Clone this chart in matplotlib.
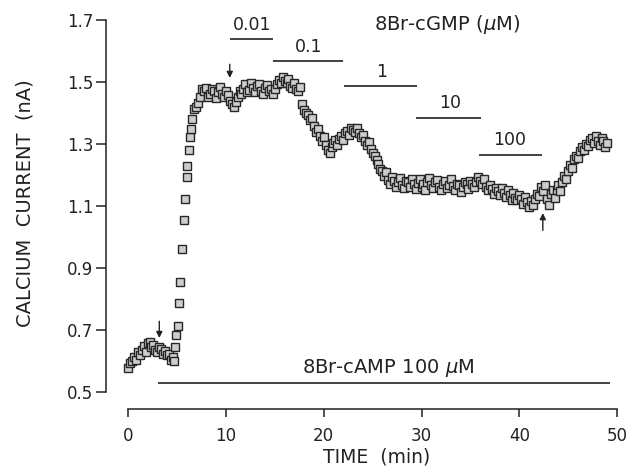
import matplotlib.pyplot as plt

plt.rcParams['font.family'] = ['DejaVu Sans']
plt.rcParams['mathtext.fontset'] = 'dejavusans'

# calcium current recording
time_min = [
    0.0, 0.2, 0.4, 0.6, 0.8, 1.0, 1.2, 1.4, 1.6, 1.8,
    2.0, 2.2, 2.4, 2.6, 2.8, 3.0, 3.2, 3.4, 3.6, 3.8,
    4.0, 4.2, 4.4, 4.6, 4.7,
    4.8, 4.95, 5.1, 5.25, 5.35, 5.5, 5.7, 5.85, 6.0, 6.05,
    6.2, 6.35, 6.45, 6.55, 6.75, 6.95, 7.15, 7.35, 7.55,
    7.8, 8.0, 8.2, 8.4, 8.6, 8.8, 9.0, 9.2, 9.4, 9.6,
    9.8, 10.0, 10.2, 10.4, 10.6, 10.8, 11.0, 11.2, 11.4, 11.6,
    11.8, 12.0, 12.2, 12.4, 12.6, 12.8, 13.0, 13.2, 13.4, 13.6,
    13.8, 14.0, 14.2, 14.4, 14.6, 14.8, 15.0, 15.2, 15.4, 15.6,
    15.8, 16.0, 16.2, 16.4, 16.6, 16.8, 17.0, 17.2, 17.4, 17.6,
    17.8, 18.0, 18.2, 18.4, 18.6, 18.8, 19.0, 19.2, 19.4, 19.6,
    19.8, 20.0, 20.2, 20.4, 20.6, 20.8, 21.0, 21.2, 21.4, 21.6,
    21.8, 22.0, 22.2, 22.4, 22.6, 22.8, 23.0, 23.2, 23.4, 23.6,
    23.8, 24.0, 24.2, 24.4, 24.6, 24.8, 25.0, 25.2, 25.4, 25.6,
    25.8, 26.0, 26.2, 26.4, 26.6, 26.8, 27.0, 27.2, 27.4, 27.6,
    27.8, 28.0, 28.2, 28.4, 28.6, 28.8, 29.0, 29.2, 29.4, 29.6,
    29.8, 30.0, 30.2, 30.4, 30.6, 30.8, 31.0, 31.2, 31.4, 31.6,
    31.8, 32.0, 32.2, 32.4, 32.6, 32.8, 33.0, 33.2, 33.4, 33.6,
    33.8, 34.0, 34.2, 34.4, 34.6, 34.8, 35.0, 35.2, 35.4, 35.6,
    35.8, 36.0, 36.2, 36.4, 36.6, 36.8, 37.0, 37.2, 37.4, 37.6,
    37.8, 38.0, 38.2, 38.4, 38.6, 38.8, 39.0, 39.2, 39.4, 39.6,
    39.8, 40.0, 40.2, 40.4, 40.6, 40.8, 41.0, 41.2, 41.4, 41.6,
    41.8, 42.0, 42.2, 42.4, 42.6, 42.8, 43.0, 43.2, 43.4, 43.6,
    43.8, 44.0, 44.2, 44.4, 44.6, 44.8, 45.0, 45.2, 45.4, 45.6,
    45.8, 46.0, 46.2, 46.4, 46.6, 46.8, 47.0, 47.2, 47.4, 47.6,
    47.8, 48.0, 48.2, 48.4, 48.6, 48.8, 49.0,
]
current_nA = [
    0.578, 0.592, 0.600, 0.612, 0.604, 0.628, 0.618, 0.636, 0.648, 0.630,
    0.658, 0.662, 0.644, 0.652, 0.636, 0.628, 0.646, 0.640, 0.622, 0.632,
    0.618, 0.624, 0.604, 0.614, 0.600,
    0.645, 0.684, 0.713, 0.787, 0.855, 0.961, 1.055, 1.123, 1.194, 1.229,
    1.280, 1.323, 1.348, 1.380, 1.413, 1.420, 1.432, 1.450, 1.477,
    1.470, 1.482, 1.452, 1.460, 1.478, 1.470, 1.448, 1.466, 1.484, 1.462,
    1.450, 1.472, 1.458, 1.440, 1.428, 1.420, 1.436, 1.452, 1.470, 1.462,
    1.478, 1.492, 1.468, 1.474, 1.496, 1.480, 1.466, 1.488, 1.494, 1.472,
    1.462, 1.480, 1.490, 1.470, 1.476, 1.460, 1.478, 1.494, 1.506, 1.498,
    1.516, 1.504, 1.496, 1.508, 1.488, 1.480, 1.496, 1.478, 1.470, 1.484,
    1.428, 1.410, 1.400, 1.392, 1.376, 1.384, 1.358, 1.340, 1.348, 1.326,
    1.308, 1.322, 1.296, 1.282, 1.270, 1.290, 1.304, 1.312, 1.298, 1.316,
    1.326, 1.314, 1.336, 1.342, 1.330, 1.352, 1.346, 1.338, 1.350, 1.336,
    1.324, 1.330, 1.308, 1.298, 1.306, 1.284, 1.270, 1.262, 1.248, 1.236,
    1.220, 1.212, 1.196, 1.208, 1.184, 1.172, 1.192, 1.180, 1.160, 1.176,
    1.190, 1.168, 1.158, 1.182, 1.176, 1.160, 1.188, 1.170, 1.154, 1.174,
    1.186, 1.162, 1.170, 1.152, 1.178, 1.190, 1.166, 1.158, 1.176, 1.184,
    1.162, 1.150, 1.172, 1.180, 1.158, 1.168, 1.186, 1.164, 1.150, 1.172,
    1.168, 1.146, 1.160, 1.178, 1.170, 1.156, 1.182, 1.170, 1.160, 1.178,
    1.192, 1.182, 1.170, 1.186, 1.162, 1.150, 1.168, 1.156, 1.140, 1.158,
    1.148, 1.136, 1.158, 1.142, 1.128, 1.150, 1.134, 1.120, 1.142, 1.126,
    1.118, 1.136, 1.124, 1.106, 1.128, 1.112, 1.098, 1.116, 1.104, 1.122,
    1.140, 1.132, 1.160, 1.148, 1.166, 1.124, 1.104, 1.138, 1.150, 1.126,
    1.152, 1.166, 1.148, 1.176, 1.196, 1.188, 1.214, 1.232, 1.224, 1.250,
    1.262, 1.254, 1.276, 1.290, 1.280, 1.300, 1.292, 1.312, 1.320, 1.302,
    1.326, 1.310, 1.296, 1.318, 1.308, 1.290, 1.304,
]

x_ticks = [0, 10, 20, 30, 40, 50]
y_ticks = [0.5, 0.7, 0.9, 1.1, 1.3, 1.5, 1.7]

# 8Br-cGMP applications: label, start, end (min), bar level (nA)
cgmp_labels = ['0.01', '0.1', '1', '10', '100']
cgmp_start = [10.4, 14.8, 22.1, 29.4, 35.9]
cgmp_end = [14.8, 22.0, 29.5, 36.1, 42.3]
cgmp_level = [1.639, 1.568, 1.487, 1.384, 1.265]
cgmp_label_x = [12.7, 18.5, 25.9, 32.9, 38.96]
cgmp_label_y = [1.684, 1.613, 1.532, 1.432, 1.313]

# 8Br-cAMP bar
camp_start, camp_end, camp_level = 3.1, 49.3, 0.529

# arrows: time, tail, tip
arrow_t = [3.2, 10.4, 42.4]
arrow_tail = [0.728, 1.557, 1.021]
arrow_tip = [0.674, 1.513, 1.077]

ink = '#222222'

fig = plt.figure(figsize=(6.36, 4.76), dpi=100)
ax = fig.add_axes([106 / 636, 1 - 409 / 476, 519 / 636, 394 / 476])
ax.set_xlim(-2.25, 50.8)
ax.set_ylim(0.445, 1.716)

ax.plot(time_min, current_nA, 's', ms=5.4, mfc='#cdcdcd', mec='#262626',
        mew=1.0, ls='none', zorder=3)

for s in ['top', 'right']:
    ax.spines[s].set_visible(False)
ax.spines['left'].set_bounds(0.5, 1.7)
ax.spines['bottom'].set_bounds(0, 50)
for s in ['left', 'bottom']:
    ax.spines[s].set_linewidth(1.1)
    ax.spines[s].set_color(ink)

ax.set_xticks(x_ticks)
ax.set_yticks(y_ticks)
ax.set_yticklabels([f'{v:.1f}' for v in y_ticks])
ax.tick_params(axis='x', direction='out', length=6, width=1.1, pad=7,
               labelsize=12, colors=ink)
ax.tick_params(axis='y', direction='out', length=7, width=1.1, pad=2,
               labelsize=12, colors=ink)

ax.set_xlabel('TIME  (min)', fontsize=13.5, color=ink, va='center')
ax.xaxis.set_label_coords(0.522, -0.122)
ax.set_ylabel('CALCIUM  CURRENT  (nA)', fontsize=14, color=ink, va='center')
ax.yaxis.set_label_coords(-0.156, 0.523)

for lab, x0, x1, yb, xt, yt in zip(cgmp_labels, cgmp_start, cgmp_end,
                                   cgmp_level, cgmp_label_x, cgmp_label_y):
    ax.hlines(yb, x0, x1, color=ink, lw=1.2)
    ax.text(xt, yt, lab, ha='center', va='center', fontsize=12.5, color=ink)

ax.text(32.6, 1.684, r'8Br-cGMP ($\mu$M)', ha='center', va='center',
        fontsize=14, color=ink)

ax.hlines(camp_level, camp_start, camp_end, color=ink, lw=1.2)
ax.text(26.6, 0.577, r'8Br-cAMP 100 $\mu$M', ha='center', va='center',
        fontsize=14, color=ink)

for t, a, b in zip(arrow_t, arrow_tail, arrow_tip):
    ax.annotate('', xy=(t, b), xytext=(t, a),
                arrowprops=dict(arrowstyle='-|>', color=ink, lw=1.0,
                                mutation_scale=9, shrinkA=0, shrinkB=0))

fig.savefig('out.png', dpi=100)
